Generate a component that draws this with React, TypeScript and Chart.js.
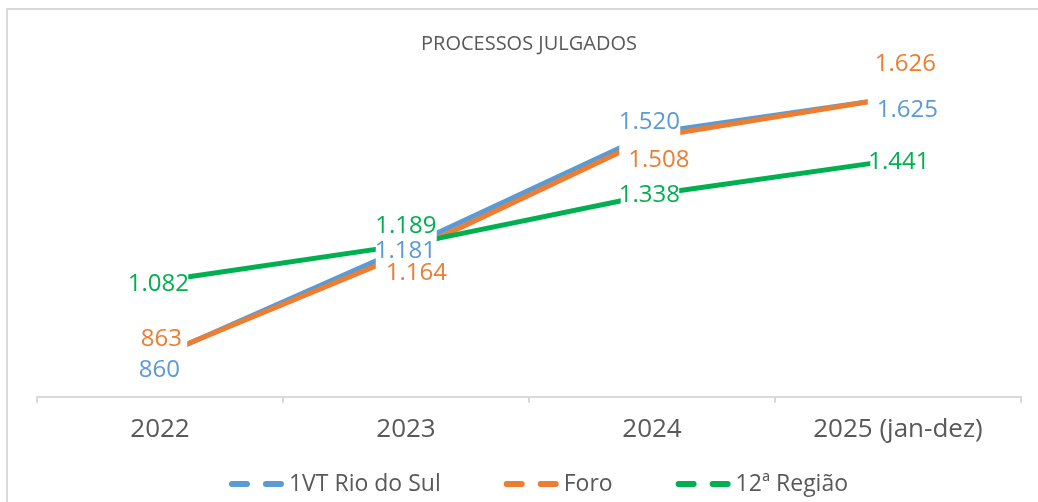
import React, { useEffect, useRef } from 'react';
import { Chart, registerables } from 'chart.js';

Chart.register(...registerables);

// ---- data ----
const categories = ['2022', '2023', '2024', '2025 (jan-dez)'];
const seriesNames = ['1VT Rio do Sul', 'Foro', '12ª Região'];
const rioDoSul = [860, 1181, 1520, 1625];
const foro = [863, 1164, 1508, 1626];
const regiao12 = [1082, 1189, 1338, 1441];
const chartTitle = 'PROCESSOS JULGADOS';

// ---- styles ----
const seriesColors = ['#5B9BD5', '#ED7D31', '#00B050'];
const textGray = '#595959';
const lineGray = '#D9D9D9';
const FONT = '"Open Sans", "Noto Sans", sans-serif';

// data label placement relative to its point: [dx, dy, padLeft, padRight]
const labelPlacement: number[][][] = [
  [[-0.5, 12.5, 2, 2], [-2, 1.5, 1, 2], [-2, -12.5, 1, 1], [10, 11.3, 11, 2]],
  [[1.5, -18, 2, 6], [11.5, 18.3, 11, 2], [7.5, 22, 11, 2], [8, -34.8, 2, 2]],
  [[-1, 1.7, 2, 0], [0.5, -20.8, 1, 1], [-2, -0.7, 0, 0], [-0.5, 0.9, 0, 2]],
];
const labelBoxHalfHeight = 20;

const fmt = (v: number) => String(v).replace(/\B(?=(\d{3})+(?!\d))/g, '.');

const framePlugin = {
  id: 'frame',
  beforeDraw(chart: any) {
    const { ctx, width, height } = chart;
    ctx.save();
    ctx.fillStyle = '#FFFFFF';
    ctx.fillRect(0, 0, width, height);
    ctx.fillStyle = lineGray;
    ctx.fillRect(6, 8, width - 6, 2);
    ctx.fillRect(6, 8, 2, height - 8);
    ctx.restore();
  },
};

const labelPlugin = {
  id: 'valueLabels',
  afterDatasetsDraw(chart: any) {
    const { ctx } = chart;
    ctx.save();
    ctx.font = `24px ${FONT}`;
    ctx.textAlign = 'left';
    ctx.textBaseline = 'alphabetic';
    const items: any[] = [];
    chart.data.datasets.forEach((ds: any, di: number) => {
      const meta = chart.getDatasetMeta(di);
      meta.data.forEach((pt: any, i: number) => {
        const text = fmt(ds.data[i]);
        const m = ctx.measureText(text);
        const [dx, dy, pl, pr] = labelPlacement[di][i];
        const cx = pt.x + dx;
        const cy = pt.y + dy;
        const abl = m.actualBoundingBoxLeft;
        const abr = m.actualBoundingBoxRight;
        const asc = m.actualBoundingBoxAscent;
        const desc = m.actualBoundingBoxDescent;
        const tx = cx - (abr - abl) / 2;
        const ty = cy + (asc - desc) / 2;
        const inkL = tx - abl;
        const inkR = tx + abr;
        items.push({
          text,
          tx,
          ty,
          color: ds.borderColor,
          box: [inkL - pl, cy - labelBoxHalfHeight, inkR - inkL + pl + pr, labelBoxHalfHeight * 2],
        });
      });
    });
    ctx.fillStyle = '#FFFFFF';
    items.forEach((it) => ctx.fillRect(it.box[0], it.box[1], it.box[2], it.box[3]));
    items.forEach((it) => {
      ctx.fillStyle = it.color;
      ctx.fillText(it.text, it.tx, it.ty);
    });
    ctx.restore();
  },
};

const legendPlugin = {
  id: 'dashLegend',
  afterDraw(chart: any) {
    const { ctx } = chart;
    ctx.save();
    ctx.font = `23px ${FONT}`;
    ctx.textBaseline = 'middle';
    ctx.textAlign = 'left';
    const symbolW = 60;
    const gap = 63;
    const widths = seriesNames.map((n) => symbolW + ctx.measureText(n).width);
    const total = widths.reduce((a, b) => a + b, 0) + gap * (seriesNames.length - 1);
    const centerX = 538.5;
    const yc = 484;
    let x = centerX - total / 2;
    seriesNames.forEach((name, i) => {
      ctx.strokeStyle = seriesColors[i];
      ctx.lineWidth = 6;
      ctx.lineCap = 'round';
      ctx.beginPath();
      ctx.moveTo(x + 3, yc);
      ctx.lineTo(x + 18, yc);
      ctx.moveTo(x + 37, yc);
      ctx.lineTo(x + 52, yc);
      ctx.stroke();
      ctx.fillStyle = textGray;
      ctx.fillText(name, x + symbolW, yc);
      x += widths[i] + gap;
    });
    ctx.restore();
  },
};

export default function App() {
  const canvasRef = useRef<HTMLCanvasElement | null>(null);

  useEffect(() => {
    if (!canvasRef.current) return;
    const seriesData = [rioDoSul, foro, regiao12];
    const orders = [3, 2, 1];
    const chart = new Chart(canvasRef.current, {
      type: 'line',
      data: {
        labels: categories,
        datasets: seriesData.map((d, i) => ({
          label: seriesNames[i],
          data: d,
          borderColor: seriesColors[i],
          backgroundColor: seriesColors[i],
          borderWidth: 5,
          pointRadius: 0,
          pointHoverRadius: 0,
          tension: 0,
          fill: false,
          order: orders[i],
        })),
      },
      options: {
        responsive: true,
        maintainAspectRatio: false,
        animation: false,
        events: [],
        layout: { padding: { left: 37, right: 17, top: 0, bottom: 46 } },
        plugins: {
          legend: { display: false },
          tooltip: { enabled: false },
          title: {
            display: true,
            text: chartTitle,
            color: textGray,
            font: { family: FONT, size: 20, weight: 'normal' },
            padding: { top: 32, bottom: 16 },
          },
        },
        scales: {
          x: {
            type: 'category',
            offset: true,
            grid: {
              display: true,
              offset: true,
              drawOnChartArea: false,
              drawTicks: true,
              tickLength: 6,
              color: lineGray,
              lineWidth: 2,
            },
            border: { display: true, color: lineGray, width: 2 },
            ticks: {
              color: textGray,
              font: { family: FONT, size: 26 },
              padding: 11,
              maxRotation: 0,
              autoSkip: false,
            },
          },
          y: { display: false, min: 740, max: 1700 },
        },
      },
      plugins: [framePlugin, labelPlugin, legendPlugin],
    } as any);
    return () => chart.destroy();
  }, []);

  return (
    <div style={{ position: 'fixed', left: 0, top: 0, width: 1038, height: 502, background: '#fff' }}>
      <canvas ref={canvasRef} style={{ display: 'block' }} />
    </div>
  );
}
